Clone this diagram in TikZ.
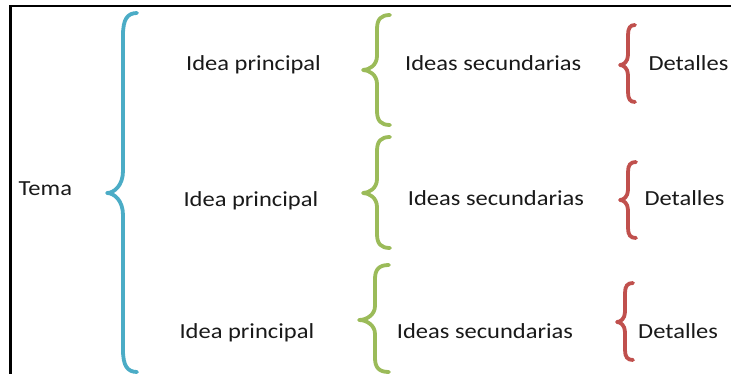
\documentclass[tikz,border=0pt]{standalone}
\usepackage{fontspec}
\setmainfont{Carlito}[FakeStretch=1.14]
\definecolor{bracebluec}{HTML}{4BACC6}
\definecolor{bracegreenc}{HTML}{9BBB59}
\definecolor{braceredc}{HTML}{C0504D}
% #1 colour, #2 tip x, #3 tip y, #4 top y, #5 bottom y, #6 tip-to-stem width, #7 end hook, #8 curve length
\newcommand\cbrace[8]{%
  \draw[#1, line width=3.8pt, line cap=round, line join=round]
    ({#2+#6+#7},#4) .. controls ({#2+#6+0.3*#7},#4) and ({#2+#6},{#4+0.3*#8}) .. ({#2+#6},{#4+#8})
    -- ({#2+#6},{#3-#8}) .. controls ({#2+#6},{#3-0.35*#8}) and ({#2+0.45*#6},#3) .. (#2,#3)
    .. controls ({#2+0.45*#6},#3) and ({#2+#6},{#3+0.35*#8}) .. ({#2+#6},{#3+#8})
    -- ({#2+#6},{#5-#8}) .. controls ({#2+#6},{#5-0.3*#8}) and ({#2+#6+0.3*#7},#5) .. ({#2+#6+#7},#5);}
\begin{document}
\begin{tikzpicture}[x=1pt,y=-1pt,
  lbl/.style={anchor=base west, inner sep=0pt, font=\fontsize{21.5}{24}\selectfont, text=black!90}]
\useasboundingbox (0,0) rectangle (731,374);
% frame
\draw[line width=2.4pt] (731,6.2) -- (10.5,6.2) -- (10.5,374);
% braces
\cbrace{bracebluec}{107}{193}{13}{372}{16}{14}{22}
\cbrace{bracegreenc}{363}{70}{15}{125}{14}{13}{14}
\cbrace{bracegreenc}{363}{193}{137}{248}{14}{13}{14}
\cbrace{bracegreenc}{359}{320}{265}{372}{16}{14}{14}
\cbrace{braceredc}{620}{65}{25}{102}{8}{7}{10}
\cbrace{braceredc}{620}{200}{162}{238}{8}{8}{10}
\cbrace{braceredc}{617}{322}{283}{360}{8}{8}{10}
% texts
\node[lbl] (tema) at (18.5,196) {Tema};
\node[lbl] (ip1) at (186,71) {Idea principal};
\node[lbl] (ip2) at (183.3,206.5) {Idea principal};
\node[lbl] (ip3) at (179.3,338.3) {Idea principal};
\node[lbl] (is1) at (405,71) {Ideas secundarias};
\node[lbl] (is2) at (407.7,206) {Ideas secundarias};
\node[lbl] (is3) at (396.7,338) {Ideas secundarias};
\node[lbl] (d1) at (648.3,71) {Detalles};
\node[lbl] (d2) at (644.3,206) {Detalles};
\node[lbl] (d3) at (638,338) {Detalles};
\end{tikzpicture}
\end{document}
